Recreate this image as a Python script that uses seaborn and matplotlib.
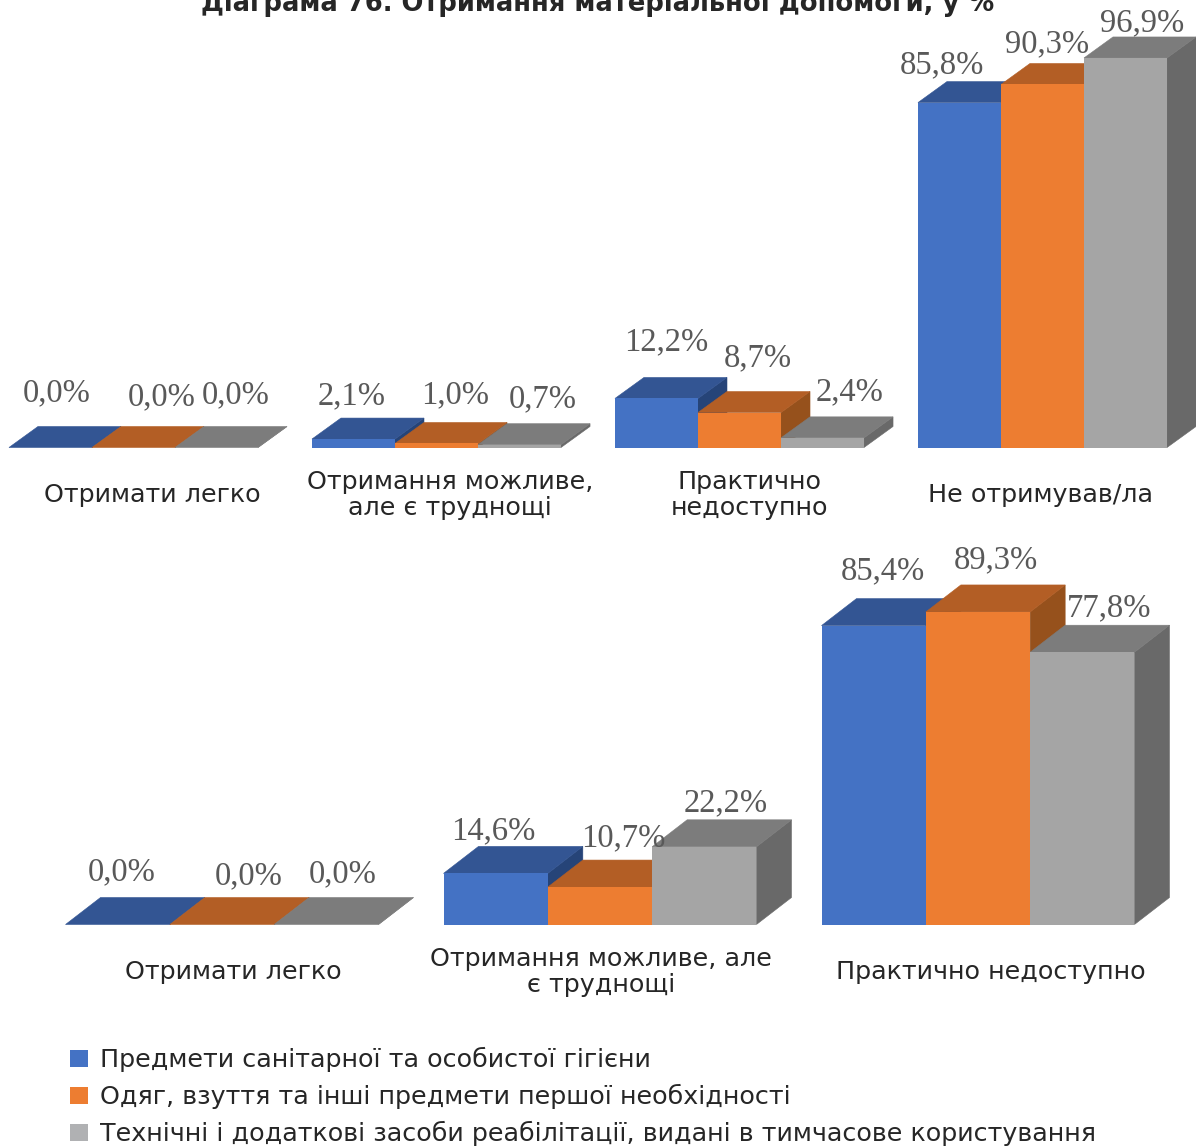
import pandas as pd
import seaborn as sns
import matplotlib.pyplot as plt
from matplotlib.patches import Patch, Polygon

W, H = 1196, 1146

title = 'Діаграма 76. Отримання матеріальної допомоги, у %'
series = ['Предмети санітарної та особистої гігієни',
          'Одяг, взуття та інші предмети першої необхідності',
          'Технічні і додаткові засоби реабілітації, видані в тимчасове користування']

top_cats = ['Отримати легко', 'Отримання можливе,\nале є труднощі',
            'Практично\nнедоступно', 'Не отримував/ла']
top_hygiene = [0.0, 2.1, 12.2, 85.8]
top_clothes = [0.0, 1.0, 8.7, 90.3]
top_technical = [0.0, 0.7, 2.4, 96.9]

bottom_cats = ['Отримати легко', 'Отримання можливе, але\nє труднощі', 'Практично недоступно']
bottom_hygiene = [0.0, 14.6, 85.4]
bottom_clothes = [0.0, 10.7, 89.3]
bottom_technical = [0.0, 22.2, 77.8]

front = ['#4472C4', '#ED7D31', '#A5A5A5']
roof = ['#335593', '#B35E25', '#7C7C7C']
side = ['#264478', '#96511C', '#696969']
swatch = ['#4472C4', '#ED7D31', '#B0B1B3']

plt.rcParams['font.family'] = ['DejaVu Sans']


def make_df(cats, a, b, c):
    rows = []
    for name, vals in zip(series, [a, b, c]):
        for cat, v in zip(cats, vals):
            rows.append({'cat': cat, 'series': name, 'value': v})
    return pd.DataFrame(rows)


def draw_panel(fig, df, cats, px_top, baseline, c0, pitch, scale, width, depth, lab_off):
    ax = fig.add_axes([0, 1 - baseline / H, 1, (baseline - px_top) / H])
    sns.barplot(data=df, x='cat', y='value', hue='series', hue_order=series, order=cats,
                palette=front, saturation=1, width=width, gap=0, legend=False, ax=ax, linewidth=0)
    ax.set_xlim(-c0 / pitch, (W - c0) / pitch)
    ax.set_ylim(0, (baseline - px_top) / scale)
    ax.axis('off')

    dx, dy = depth[0] / pitch, depth[1] / scale
    bars = ax.patches
    n = len(cats)
    for j in range(n):
        for s in range(3):
            bar = bars[s * n + j]
            x, w, h = bar.get_x(), bar.get_width(), bar.get_height()
            z = 3 + (j * 3 + s) * 3
            ax.add_patch(Polygon([(x + w, 0), (x + w + dx, dy), (x + w + dx, h + dy), (x + w, h)],
                                 fc=side[s], ec=side[s], lw=0.4, zorder=z))
            ax.add_patch(Polygon([(x, h), (x + dx, h + dy), (x + w + dx, h + dy), (x + w, h)],
                                 fc=roof[s], ec=roof[s], lw=0.4, zorder=z + 1))
            bar.set_zorder(z + 2)
            ox, oy = lab_off[j][s]
            # offsets are in pixels, 0.72 turns them into points at dpi 100
            ax.annotate(f'{h:.1f}%'.replace('.', ','), (x + w / 2, h),
                        xytext=((ox + 0.5) * 0.72, (oy - 1.5) * 0.72),
                        textcoords='offset points', ha='center', va='center',
                        family='Liberation Serif', fontsize=23.5, color='#595959', zorder=100,
                        annotation_clip=False)
    return ax


fig = plt.figure(figsize=(W / 100, H / 100), dpi=100)
fig.patch.set_facecolor('white')

fig.text(598 / W, 1 - 11 / H, title, ha='center', va='baseline', fontsize=18.6,
         fontweight='bold', color='#262626')

top_labels = [[(5.5, 56), (27.5, 52), (18.5, 54)],
              [(-2.5, 45), (18.5, 50), (22.5, 47)],
              [(9.5, 58), (17.5, 56), (26.5, 47)],
              [(-18.5, 39), (4.5, 42), (16.5, 36)]]
ax1 = draw_panel(fig, make_df(top_cats, top_hygiene, top_clothes, top_technical), top_cats,
                 30, 447.5, 133.5, 303, 4.02, 0.822, (29, 21), top_labels)
for i, (cat, off) in enumerate(zip(top_cats, [18.5, 13.5, 10, -2.5])):
    fig.text((133.5 + 303 * i + off) / W, 1 - 495 / H, cat, ha='center', va='center',
             fontsize=18.3, color='#262626', linespacing=1.08)

bottom_labels = [[(4, 54), (26, 50), (16, 52)],
                 [(-3, 44), (23, 51), (21, 45)],
                 [(9, 56), (17, 53.5), (26, 46)]]
ax2 = draw_panel(fig, make_df(bottom_cats, bottom_hygiene, bottom_clothes, bottom_technical), bottom_cats,
                 540, 924.5, 222, 378, 3.5, 0.828, (35, 27), bottom_labels)
for i, (cat, off) in enumerate(zip(bottom_cats, [11, 1, 13])):
    fig.text((222 + 378 * i + off) / W, 1 - 972 / H, cat, ha='center', va='center',
             fontsize=18.3, color='#262626', linespacing=1.08)

handles = [Patch(fc=c, ec='none') for c in swatch]
fig.legend(handles, series, loc='lower left', bbox_to_anchor=(62 / W, -8 / H), frameon=False,
           fontsize=18.3, labelcolor='#262626', handlelength=0.71, handleheight=0.63,
           handletextpad=0.47, labelspacing=0.47, borderpad=0.3, borderaxespad=0)

fig.savefig('out.png', dpi=100)
